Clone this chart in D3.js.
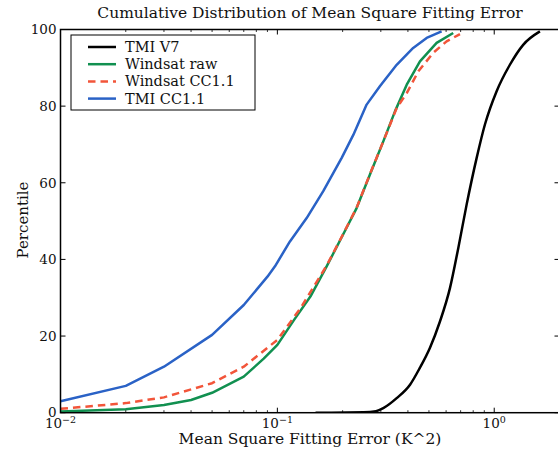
<!DOCTYPE html>
<html>
<head>
<meta charset="utf-8">
<script src="https://cdnjs.cloudflare.com/ajax/libs/d3/7.8.5/d3.min.js"></script>
<style>
    body { margin: 0; background: #fff; }
    svg text { font-family: "DejaVu Serif", serif; fill: #111; }
</style>
</head>
<body>
<div id="chart-area"></div>
<script>

// Series names and colours
const seriesNames = ['TMI V7', 'Windsat raw', 'Windsat CC1.1', 'TMI CC1.1'];
const seriesColors = ['#000000', '#119050', '#f2553a', '#2a62c6'];

// Mean square fitting error (K^2) and the percentile at it, one pair per series
const tmiV7Err = [0.15, 0.25, 0.285, 0.308, 0.355, 0.409, 0.454, 0.505, 0.562, 0.625, 0.683, 0.746, 0.830, 0.906, 1.026, 1.181, 1.36, 1.625];
const tmiV7Pct = [0, 0.1, 0.4, 1.2, 3.8, 7.3, 11.7, 16.9, 23.8, 32.5, 43, 54.3, 66.5, 75.2, 83.9, 90.8, 96, 99.5];

const windRawErr = [0.01, 0.02, 0.03, 0.04, 0.05, 0.07, 0.0865, 0.1, 0.119, 0.142, 0.1688, 0.201, 0.232, 0.267, 0.308, 0.349, 0.395, 0.4545, 0.5425, 0.647];
const windRawPct = [0.3, 0.9, 2.0, 3.3, 5.2, 9.4, 14.1, 17.7, 24.1, 30.3, 38.2, 46.5, 53.4, 62.1, 70.8, 78.7, 85.6, 91.7, 96.5, 99.1];

const windCCErr = [0.01, 0.02, 0.03, 0.05, 0.07, 0.1, 0.128, 0.1688, 0.201, 0.232, 0.267, 0.308, 0.355, 0.395, 0.447, 0.523, 0.603, 0.695];
const windCCPct = [1.0, 2.5, 4.0, 7.7, 12.0, 19.0, 27.3, 38.4, 46.6, 53.5, 62.2, 70.8, 79.5, 83.4, 89.1, 93.9, 96.9, 98.8];

const tmiCCErr = [0.01, 0.02, 0.03, 0.05, 0.07, 0.09, 0.0975, 0.1143, 0.1365, 0.1628, 0.198, 0.224, 0.258, 0.297, 0.355, 0.423, 0.488, 0.572];
const tmiCCPct = [3.0, 7.0, 12.0, 20.3, 28.1, 35.5, 38.2, 44.7, 50.8, 57.8, 66.5, 72.5, 80.4, 85.2, 90.8, 95.2, 97.8, 99.5];

// Axis ticks
const xTickExps = [-2, -1, 0];
const yTicks = [0, 20, 40, 60, 80, 100];

const chartTitle = 'Cumulative Distribution of Mean Square Fitting Error';
const xTitle = 'Mean Square Fitting Error (K^2)';
const yTitle = 'Percentile';


class CdfVis {
    constructor(parentElement) {
        this.parentElement = parentElement;
        this.initVis();
    }

    initVis() {
        let vis = this;

        const width = 558;
        const height = 450;

        vis.margin = { top: 29.5, right: -1.5, bottom: 37.3, left: 60.5 };
        vis.width = width - vis.margin.left - vis.margin.right;
        vis.height = height - vis.margin.top - vis.margin.bottom;

        // init drawing area
        vis.root = d3.select('#' + vis.parentElement)
            .append('svg')
            .attr('width', width)
            .attr('height', height)
            .style('display', 'block');

        vis.svg = vis.root.append('g')
            .attr('transform', `translate(${vis.margin.left}, ${vis.margin.top})`);

        // scales
        vis.x = d3.scaleLog().domain([0.01, 2]).range([0, vis.width]);
        vis.y = d3.scaleLinear().domain([0, 100]).range([vis.height, 0]);

        // the black curve is smooth, the others are straight segments
        vis.smoothLine = d3.line()
            .x(d => vis.x(d.err))
            .y(d => vis.y(d.pct))
            .curve(d3.curveMonotoneX);
        vis.line = d3.line()
            .x(d => vis.x(d.err))
            .y(d => vis.y(d.pct));

        // titles
        vis.root.append('text')
            .attr('x', 310)
            .attr('y', 17.5)
            .attr('text-anchor', 'middle')
            .style('font-size', '15.5px')
            .text(chartTitle);

        vis.root.append('text')
            .attr('x', 310)
            .attr('y', 444)
            .attr('text-anchor', 'middle')
            .style('font-size', '15.5px')
            .text(xTitle);

        vis.root.append('text')
            .attr('transform', 'translate(28, 220) rotate(-90)')
            .attr('text-anchor', 'middle')
            .style('font-size', '15px')
            .text(yTitle);

        vis.wrangleData();
    }

    wrangleData() {
        let vis = this;

        const errs = [tmiV7Err, windRawErr, windCCErr, tmiCCErr];
        const pcts = [tmiV7Pct, windRawPct, windCCPct, tmiCCPct];

        vis.displayData = seriesNames.map((name, i) => ({
            name: name,
            color: seriesColors[i],
            dashed: name === 'Windsat CC1.1',
            values: errs[i].map((e, j) => ({ err: e, pct: pcts[i][j] }))
        }));

        vis.updateVis();
    }

    updateVis() {
        let vis = this;

        // clip so lines stay in the axes
        vis.svg.append('clipPath').attr('id', 'plot-clip')
            .append('rect').attr('width', vis.width).attr('height', vis.height);

        vis.svg.append('g')
            .attr('clip-path', 'url(#plot-clip)')
            .selectAll('.cdf-line')
            .data(vis.displayData)
            .enter()
            .append('path')
            .attr('class', 'cdf-line')
            .attr('d', d => d.name === 'TMI V7' ? vis.smoothLine(d.values) : vis.line(d.values))
            .attr('fill', 'none')
            .attr('stroke', d => d.color)
            .attr('stroke-width', 2.5)
            .attr('stroke-linejoin', 'round')
            .attr('stroke-dasharray', d => d.dashed ? '7.5,5' : null);

        vis.drawAxes();
        vis.drawLegend();
    }

    drawAxes() {
        let vis = this;

        const majors = xTickExps.map(e => Math.pow(10, e));
        const minors = [];
        xTickExps.forEach(e => {
            d3.range(2, 10).forEach(m => {
                let v = m * Math.pow(10, e);
                if (v <= 2) minors.push(v);
            });
        });

        // bottom and top axes, ticks pointing in
        [[vis.height, -1], [0, 1]].forEach(([yPos, dir]) => {
            let g = vis.svg.append('g').attr('transform', `translate(0, ${yPos})`);
            g.selectAll('.maj').data(majors).enter().append('line')
                .attr('x1', d => vis.x(d)).attr('x2', d => vis.x(d))
                .attr('y1', 0).attr('y2', dir * 5)
                .attr('stroke', '#000').attr('stroke-width', 1);
            g.selectAll('.min').data(minors).enter().append('line')
                .attr('x1', d => vis.x(d)).attr('x2', d => vis.x(d))
                .attr('y1', 0).attr('y2', dir * 2.5)
                .attr('stroke', '#000').attr('stroke-width', 0.8);
        });

        // x tick labels as 10^n
        let xl = vis.svg.append('g')
            .selectAll('.x-label')
            .data(xTickExps)
            .enter()
            .append('text')
            .attr('x', d => vis.x(Math.pow(10, d)))
            .attr('y', vis.height + 15.5)
            .attr('text-anchor', 'middle')
            .style('font-size', '13.5px');
        xl.append('tspan').text('10');
        xl.append('tspan')
            .attr('dy', -5)
            .style('font-size', '9.5px')
            .text(d => d < 0 ? '\u2212' + Math.abs(d) : d);

        // left and right ticks
        [[0, 1], [vis.width, -1]].forEach(([xPos, dir]) => {
            vis.svg.append('g')
                .selectAll('line')
                .data(yTicks)
                .enter()
                .append('line')
                .attr('x1', xPos).attr('x2', xPos + dir * 5)
                .attr('y1', d => vis.y(d)).attr('y2', d => vis.y(d))
                .attr('stroke', '#000').attr('stroke-width', 1);
        });

        vis.svg.append('g')
            .selectAll('.y-label')
            .data(yTicks)
            .enter()
            .append('text')
            .attr('x', -4)
            .attr('y', d => vis.y(d))
            .attr('dy', '0.35em')
            .attr('text-anchor', 'end')
            .style('font-size', '13.5px')
            .text(d => d);

        // frame
        vis.svg.append('rect')
            .attr('width', vis.width)
            .attr('height', vis.height)
            .attr('fill', 'none')
            .attr('stroke', '#000')
            .attr('stroke-width', 1.5);
    }

    drawLegend() {
        let vis = this;

        let lg = vis.root.append('g').attr('transform', 'translate(71, 35)');

        lg.append('rect')
            .attr('width', 184)
            .attr('height', 75)
            .attr('fill', '#fff')
            .attr('stroke', '#000')
            .attr('stroke-width', 1);

        let row = lg.selectAll('.legend-row')
            .data(vis.displayData)
            .enter()
            .append('g')
            .attr('transform', (d, i) => `translate(0, ${12 + i * 17.2})`);

        row.append('line')
            .attr('x1', 17).attr('x2', 45)
            .attr('y1', 0).attr('y2', 0)
            .attr('stroke', d => d.color)
            .attr('stroke-width', 2.5)
            .attr('stroke-dasharray', d => d.dashed ? '7.5,5' : null);

        row.append('text')
            .attr('x', 54)
            .attr('y', 0)
            .attr('dy', '0.35em')
            .style('font-size', '14.5px')
            .text(d => d.name);
    }
}

new CdfVis('chart-area');

</script>
</body>
</html>
